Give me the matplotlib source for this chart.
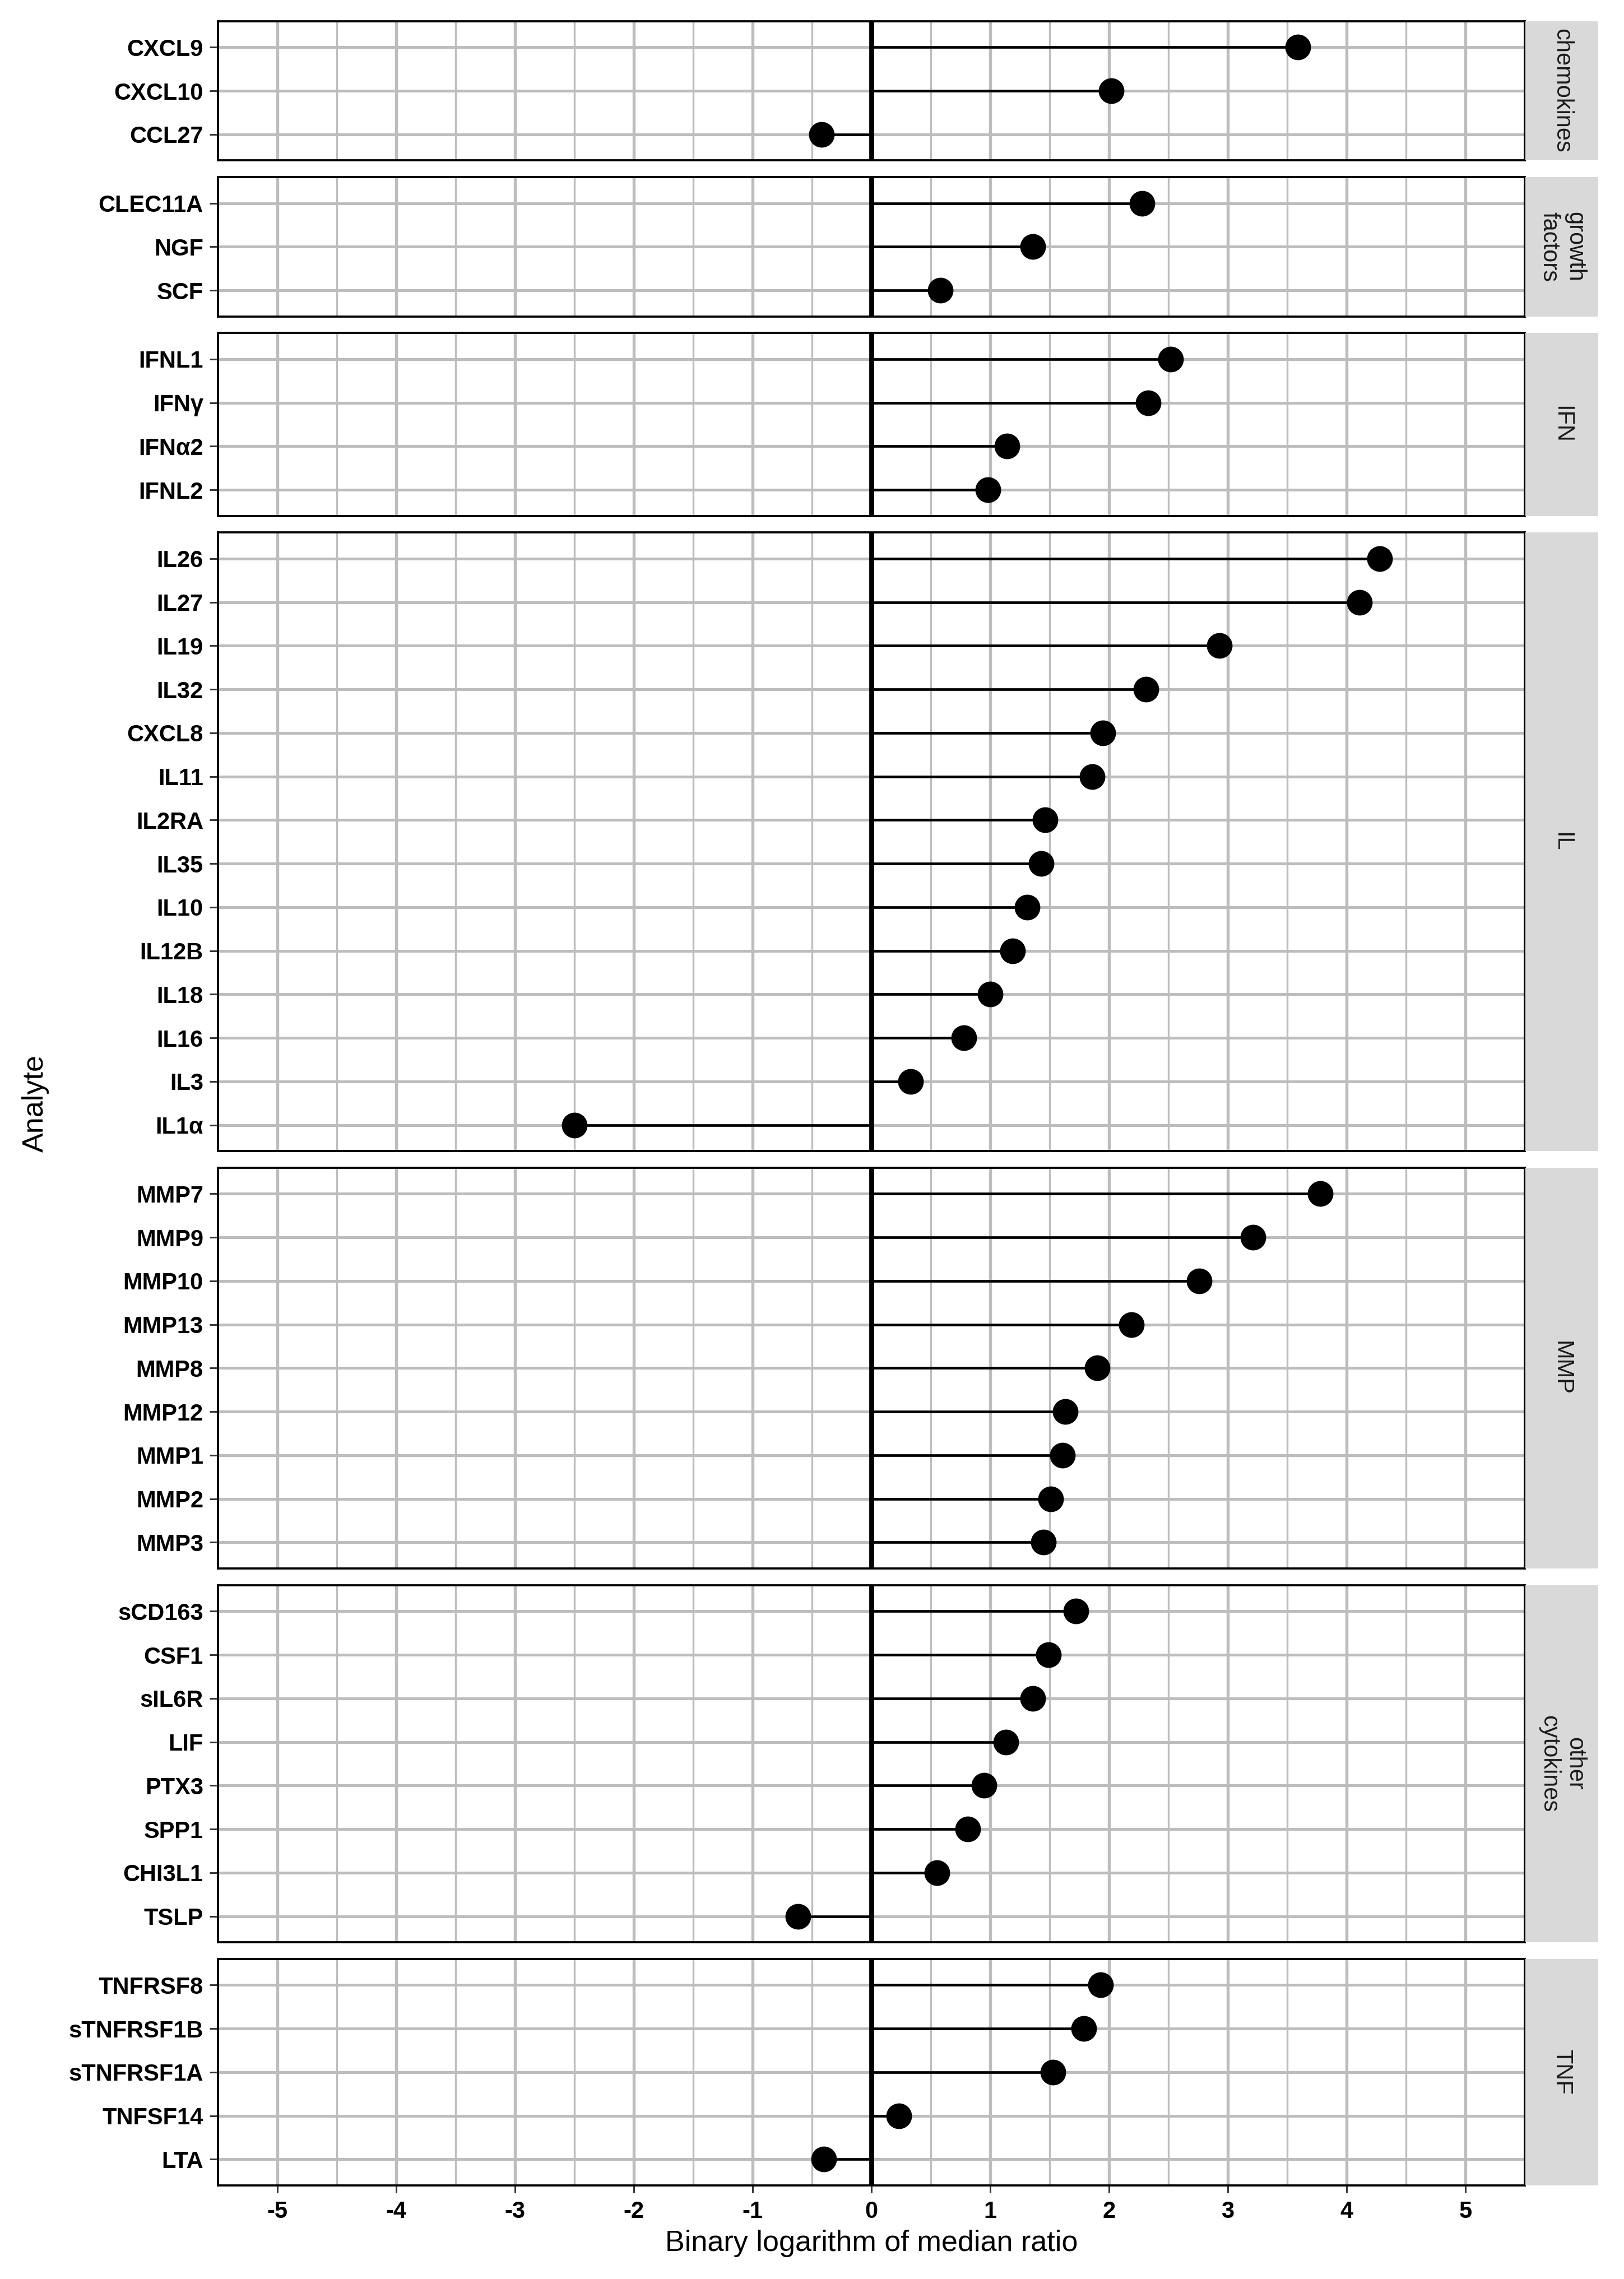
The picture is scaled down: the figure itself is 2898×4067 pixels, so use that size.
import matplotlib

matplotlib.use("Agg")
import matplotlib.pyplot as plt

# data (log2 median ratio)
chemokines = ["CXCL9", "CXCL10", "CCL27"]
chemokines_val = [3.59, 2.02, -0.42]

growth_factors = ["CLEC11A", "NGF", "SCF"]
growth_factors_val = [2.28, 1.36, 0.58]

ifn = ["IFNL1", "IFNγ", "IFNα2", "IFNL2"]
ifn_val = [2.52, 2.33, 1.14, 0.98]

il = ["IL26", "IL27", "IL19", "IL32", "CXCL8", "IL11", "IL2RA", "IL35",
      "IL10", "IL12B", "IL18", "IL16", "IL3", "IL1α"]
il_val = [4.28, 4.11, 2.93, 2.31, 1.95, 1.86, 1.46, 1.43,
          1.31, 1.19, 1.00, 0.78, 0.33, -2.50]

mmp = ["MMP7", "MMP9", "MMP10", "MMP13", "MMP8", "MMP12", "MMP1", "MMP2", "MMP3"]
mmp_val = [3.78, 3.21, 2.76, 2.19, 1.90, 1.63, 1.61, 1.51, 1.45]

other = ["sCD163", "CSF1", "sIL6R", "LIF", "PTX3", "SPP1", "CHI3L1", "TSLP"]
other_val = [1.72, 1.49, 1.36, 1.13, 0.95, 0.81, 0.55, -0.62]

tnf = ["TNFRSF8", "sTNFRSF1B", "sTNFRSF1A", "TNFSF14", "LTA"]
tnf_val = [1.93, 1.79, 1.53, 0.23, -0.40]

panel_names = ["chemokines", "growth\nfactors", "IFN", "IL", "MMP", "other\ncytokines", "TNF"]
panel_labels = [chemokines, growth_factors, ifn, il, mmp, other, tnf]
panel_values = [chemokines_val, growth_factors_val, ifn_val, il_val, mmp_val, other_val, tnf_val]

x_ticks = list(range(-5, 6))
x_minor = [t + 0.5 for t in range(-6, 6)]

plt.rcParams["font.family"] = ["Liberation Sans", "DejaVu Sans"]

W, H = 2898, 4067
fig = plt.figure(figsize=(W / 300, H / 300), dpi=300)

# layout in pixels
left, right = 389, 2721
strip_w = 130
top0, bottom_end = 37.6, 3900
gap = 29.5
n_total = sum(len(p) for p in panel_labels)
row = (bottom_end - top0 - gap * (len(panel_labels) - 1)) / (n_total + 0.2 * len(panel_labels))

grid_col = "#bdbdbd"
top = top0
for i, (name, labs, vals) in enumerate(zip(panel_names, panel_labels, panel_values)):
    n = len(labs)
    h = (n + 0.2) * row
    ax = fig.add_axes([left / W, 1 - (top + h) / H, (right - left) / W, h / H])
    sax = fig.add_axes([(right + 1) / W, 1 - (top + h) / H, strip_w / W, h / H])

    y = list(range(n))
    ax.set_xlim(-5.5, 5.5)
    ax.set_ylim(n - 1 + 0.6, -0.6)

    for xv in x_minor:
        ax.axvline(xv, color=grid_col, lw=0.8, zorder=0)
    for xv in x_ticks:
        ax.axvline(xv, color=grid_col, lw=1.3, zorder=0)
    for yv in y:
        ax.axhline(yv, color=grid_col, lw=1.2, zorder=0)

    ax.hlines(y, 0, vals, color="black", lw=1.1, zorder=2)
    ax.plot(vals, y, "o", color="black", ms=10, zorder=3)
    ax.axvline(0, color="black", lw=2.1, zorder=2)

    ax.set_yticks(y)
    ax.set_yticklabels(labs, fontweight="bold", fontsize=10, color="black")
    ax.tick_params(axis="y", length=3.5, width=0.7, color="#333333", pad=2.8)
    if i == len(panel_labels) - 1:
        ax.set_xticks(x_ticks)
        ax.set_xticklabels([str(t) for t in x_ticks], fontweight="bold", fontsize=10, color="black")
        ax.tick_params(axis="x", length=3, width=0.7, color="#333333", pad=3.5)
    else:
        ax.set_xticks([])
    for sp in ax.spines.values():
        sp.set_linewidth(0.9)
        sp.set_color("black")

    sax.set_facecolor("#d9d9d9")
    sax.set_xticks([])
    sax.set_yticks([])
    for sp in sax.spines.values():
        sp.set_visible(False)
    sax.text(0.5, 0.5, name, rotation=-90, ha="center", va="center",
             fontsize=10, color="#1a1a1a", transform=sax.transAxes)

    top += h + gap

fig.text((left + right) / 2 / W, 1 - 4003 / H, "Binary logarithm of median ratio",
         ha="center", va="center", fontsize=12.5)
fig.text(63 / W, 1 - (top0 + bottom_end) / 2 / H, "Analyte", rotation=90,
         ha="center", va="center", fontsize=12.5)

fig.savefig("out.png", dpi=300)
